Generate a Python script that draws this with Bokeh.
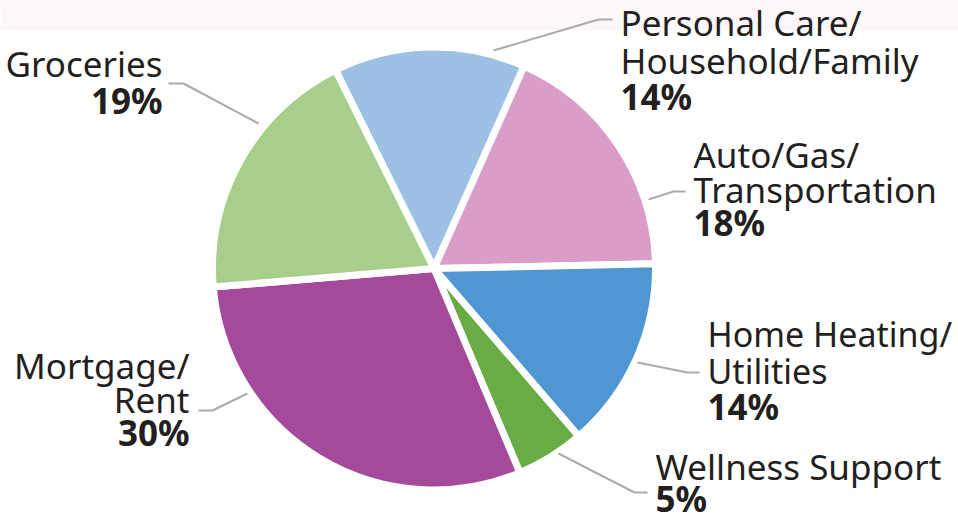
import numpy as np
from bokeh.plotting import figure
from bokeh.models import Range1d, ColumnDataSource
from bokeh.core.properties import value
from bokeh.embed import file_html
from bokeh.resources import INLINE

# ---- data ----
categories = ["Personal Care/\nHousehold/Family", "Auto/Gas/\nTransportation",
              "Home Heating/\nUtilities", "Wellness Support", "Mortgage/\nRent", "Groceries"]
shares = [14, 18, 14, 5, 30, 19]
colors = ["#9DC1E5", "#DA9DC7", "#4F97D2", "#69AB44", "#A54A9B", "#A7CF8B"]

W, H = 958, 522
def X(px): return px
def Y(py): return H - py

p = figure(width=W, height=H, x_range=Range1d(0, W), y_range=Range1d(0, H),
           output_backend="svg", toolbar_location=None, min_border=0)
p.axis.visible = False
p.grid.visible = False
p.outline_line_color = None
p.background_fill_color = "white"

# faint top band
p.quad(left=[0], right=[W], bottom=[Y(30)], top=[H], fill_color="#FCF7F8", line_color=None)

# ---- pie ----
cx, cy, R = X(433.5), Y(268), 221.5
start_deg = 116.4
fr = np.array(shares, dtype=float) / sum(shares)
edges = np.radians(start_deg - 360 * np.concatenate([[0], np.cumsum(fr)]))
src = ColumnDataSource(dict(start=edges[1:], end=edges[:-1], color=colors))
p.wedge(x=cx, y=cy, radius=R, start_angle="start", end_angle="end", direction="anticlock",
        fill_color="color", line_color="white", line_width=7, source=src)

# ---- leader lines (image px) ----
leaders = [
    [(493, 50), (598, 19), (612, 19)],
    [(648, 199), (673, 191), (685, 191)],
    [(637, 362), (687, 372), (699, 372)],
    [(558, 453), (634, 492), (647, 492)],
    [(247, 393), (212, 410), (198, 410)],
    [(258, 123), (183, 83), (168, 83)],
]
p.multi_line(xs=[[X(a) for a, b in l] for l in leaders],
             ys=[[Y(b) for a, b in l] for l in leaders],
             line_color="#ABABAB", line_width=2)

# ---- labels: (x, align, baselines) in image px ----
label_pos = [
    (620, "left", [36, 74, 110]),
    (693, "left", [168, 203, 236]),
    (707, "left", [347, 384, 420]),
    (655, "left", [480, 512]),
    (189, "right", [379, 413, 446]),
    (162, "right", [77, 114]),
]
BL_SHIFT = 14  # rendering offset of the alphabetic baseline
FS = "35px"
FONT = value("Noto Sans")
for cat, sh, (lx, al, bls) in zip(categories, shares, label_pos):
    lines = cat.split("\n")
    fs = "34px" if lx == 707 else FS
    for ln, b in zip(lines, bls):
        p.text(x=[X(lx)], y=[Y(b - BL_SHIFT)], text=[ln], text_font=FONT,
               text_font_size=fs, text_align=al, text_baseline="alphabetic",
               text_color="#231F20")
    p.text(x=[X(lx)], y=[Y(bls[len(lines)] - BL_SHIFT)], text=[f"{sh}%"], text_font=FONT,
           text_font_size=FS, text_font_style="bold", text_align=al,
           text_baseline="alphabetic", text_color="#231F20")

open("out.html", "w").write(file_html(p, INLINE))
